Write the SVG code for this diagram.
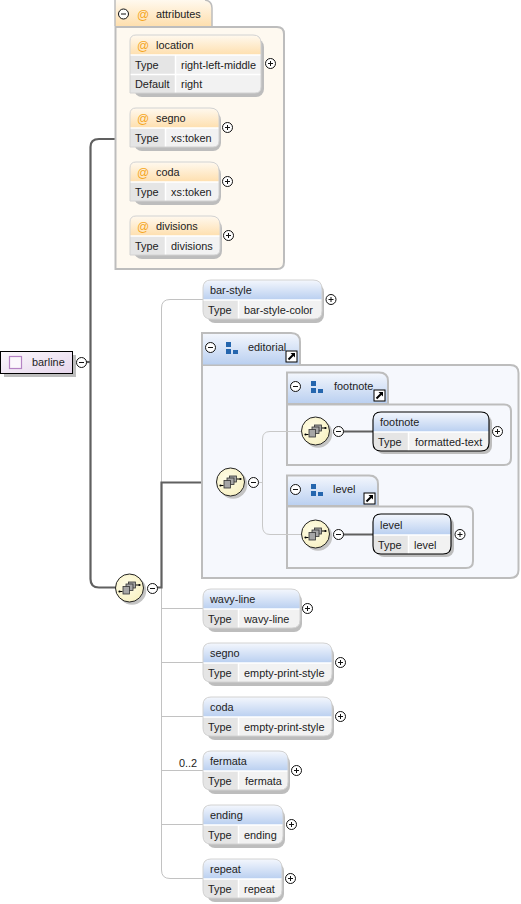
<svg xmlns="http://www.w3.org/2000/svg" xmlns:xlink="http://www.w3.org/1999/xlink" width="521" height="904" viewBox="0 0 521 904">
<style>
text{font-family:"Liberation Sans",Arial,sans-serif;font-size:10.9px;fill:#222}
.shadow{fill:#bdbdbd}
.bg{fill:#f2f2f2}
.lab{fill:#e5e5e5}
.sep{stroke:#fff;stroke-width:1.5;fill:none}
.edge{fill:none;stroke:#c2c2c2;stroke-width:1}
.edge2{fill:none;stroke:#c8c8c8;stroke-width:1}
.dark{fill:none;stroke:#606060;stroke-width:2.200}
.outline{fill:none;stroke:#d2d2d2;stroke-width:1}
.outlineb{fill:none;stroke:#000;stroke-width:1.100}
.frame{stroke:#bdbdbd;stroke-width:2}
.btn{fill:#fff;stroke:#111;stroke-width:1}
.sym{stroke:#111;stroke-width:1;fill:none}
</style>
<defs>
<linearGradient id="blue" x1="0" y1="0" x2="0" y2="1"><stop offset="0" stop-color="#f4f7fd"/><stop offset="1" stop-color="#b9cff0"/></linearGradient>
<linearGradient id="orange" x1="0" y1="0" x2="0" y2="1"><stop offset="0" stop-color="#fff9ef"/><stop offset="1" stop-color="#fedfae"/></linearGradient>
<linearGradient id="purple" x1="0" y1="0" x2="1" y2="1"><stop offset="0" stop-color="#fbf8fc"/><stop offset="1" stop-color="#e6d6ec"/></linearGradient>
<radialGradient id="seqfill" cx="0.4" cy="0.4" r="0.7"><stop offset="0" stop-color="#fffde8"/><stop offset="1" stop-color="#f7f0c0"/></radialGradient>
<g id="minus"><circle r="5" class="btn"/><path d="M-2.500 0H2.500" class="sym"/></g>
<g id="plus"><circle r="5" class="btn"/><path d="M-2.500 0H2.500M0-2.500V2.500" class="sym"/></g>
<g id="link"><rect x="-5.500" y="-5.500" width="11" height="11" fill="#fff" stroke="#000" stroke-width="1"/><path d="M-3 3L2 -2" stroke="#000" stroke-width="2" fill="none"/><path d="M-1-3.500H3.500V1Z" fill="#000"/></g>
<g id="squares" fill="#2566ae"><rect x="0" y="0" width="5" height="5"/><rect x="0" y="7" width="5" height="5"/><rect x="7" y="8" width="5" height="4"/></g>
<g id="seq">
<circle cx="2.500" cy="2.500" r="14.300" fill="#c4c4c4"/>
<circle r="14" fill="url(#seqfill)" stroke="#222" stroke-width="1"/>
<path d="M-10 3.500H-7M6-3H10" stroke="#000" stroke-width="1.100"/>
<circle cx="-10" cy="3.500" r="1.100" fill="#000"/><circle cx="10" cy="-3" r="1.100" fill="#000"/>
<rect x="-1" y="-6" width="7" height="6" fill="#a6a6a6" stroke="#333" stroke-width="0.800"/>
<rect x="-3.500" y="-4" width="7" height="6.500" fill="#a6a6a6" stroke="#333" stroke-width="0.800"/>
<rect x="-6.500" y="-1.500" width="6.500" height="7.500" fill="#a6a6a6" stroke="#333" stroke-width="0.800"/>
</g>
</defs>

<g id="connectors">
<path class="edge" d="M203 299.500H170Q161.500 299.500 161.500 308V870Q161.500 878.500 170 878.500H203"/>
<path class="edge" d="M161.500 608.500H203M161.500 662.500H203M161.500 716.500H203M161.500 770.500H203M161.500 824.500H203"/>
<path class="dark" d="M115 139H99Q90.500 139 90.500 147V579Q90.500 587.500 99 587.500H116"/>
<path class="dark" d="M86 362H90"/>
<path class="dark" d="M157 587.500H161.500V482.500H216"/>
</g>

<g id="attributes">
<path d="M115 26V0H203Q212 0 212 9V26Z" fill="url(#orange)"/>
<path d="M115 0V26M212 8V26M205 0Q212 1 212 8" stroke="#bdbdbd" stroke-width="1.500" fill="none"/>
<path d="M115.500 27H277Q284 27 284 34V262Q284 269 277 269H115.500Z" fill="#fef9f0" class="frame"/>
<use href="#minus" x="123.500" y="14"/>
<text x="137" y="19" style="fill:#f5a623;font-size:12px">@</text>
<text x="156" y="18">attributes</text>
</g>

<g id="attr-location">
<rect x="134" y="39" width="130" height="58" rx="8" class="shadow"/>
<path d="M130 55V41Q130 35 136 35H253Q261 35 261 43V55Z" fill="url(#orange)"/>
<path d="M130 55H261V87Q261 93 255 93H130Z" class="bg"/>
<path d="M130 55H175V93H130Z" class="lab"/>
<path d="M130 55H261M130 74.500H261M175.500 55V93" class="sep"/>
<path d="M130 55V41Q130 35 136 35H253Q261 35 261 43V87Q261 93 255 93H130Z" class="outline"/>
<text x="137" y="50" style="fill:#f5a623;font-size:12px">@</text><text x="156" y="49">location</text>
<text x="135" y="69">Type</text><text x="181" y="69">right-left-middle</text>
<text x="135" y="88">Default</text><text x="181" y="88">right</text>
<use href="#plus" x="270.500" y="63.500"/>
</g>

<g id="attr-segno">
<rect x="134" y="112" width="87" height="39" rx="8" class="shadow"/>
<path d="M130 128V114Q130 108 136 108H210Q219 108 219 117V128Z" fill="url(#orange)"/>
<path d="M130 128H219V141Q219 147 213 147H130Z" class="bg"/>
<path d="M130 128H165V147H130Z" class="lab"/>
<path d="M130 128H219M165.500 128V147" class="sep"/>
<path d="M130 128V114Q130 108 136 108H210Q219 108 219 117V141Q219 147 213 147H130Z" class="outline"/>
<text x="137" y="123" style="fill:#f5a623;font-size:12px">@</text><text x="156" y="122">segno</text>
<text x="135" y="142">Type</text><text x="171" y="142">xs:token</text>
<use href="#plus" x="227.500" y="127.500"/>
</g>

<g id="attr-coda">
<rect x="134" y="166" width="87" height="39" rx="8" class="shadow"/>
<path d="M130 182V168Q130 162 136 162H210Q219 162 219 171V182Z" fill="url(#orange)"/>
<path d="M130 182H219V195Q219 201 213 201H130Z" class="bg"/>
<path d="M130 182H165V201H130Z" class="lab"/>
<path d="M130 182H219M165.500 182V201" class="sep"/>
<path d="M130 182V168Q130 162 136 162H210Q219 162 219 171V195Q219 201 213 201H130Z" class="outline"/>
<text x="137" y="177" style="fill:#f5a623;font-size:12px">@</text><text x="156" y="176">coda</text>
<text x="135" y="196">Type</text><text x="171" y="196">xs:token</text>
<use href="#plus" x="227.500" y="181.500"/>
</g>

<g id="attr-divisions">
<rect x="134" y="220" width="88" height="39" rx="8" class="shadow"/>
<path d="M130 236V222Q130 216 136 216H211Q220 216 220 225V236Z" fill="url(#orange)"/>
<path d="M130 236H220V249Q220 255 214 255H130Z" class="bg"/>
<path d="M130 236H165V255H130Z" class="lab"/>
<path d="M130 236H220M165.500 236V255" class="sep"/>
<path d="M130 236V222Q130 216 136 216H211Q220 216 220 225V249Q220 255 214 255H130Z" class="outline"/>
<text x="137" y="231" style="fill:#f5a623;font-size:12px">@</text><text x="156" y="230">divisions</text>
<text x="135" y="250">Type</text><text x="171" y="250">divisions</text>
<use href="#plus" x="228.500" y="235.500"/>
</g>

<g id="barline">
<rect x="4" y="355" width="72" height="22" class="shadow"/>
<rect x="0.500" y="351.500" width="72" height="22" fill="url(#purple)" stroke="#000" stroke-width="1"/>
<rect x="9.500" y="356.500" width="12" height="12" fill="#fbf7fc" stroke="#b583c4" stroke-width="1.200"/>
<text x="32" y="366">barline</text>
<use href="#minus" x="81.500" y="362.500"/>
</g>

<g id="bar-style">
<rect x="207" y="284" width="117" height="39" rx="8" class="shadow"/>
<path d="M203 300V288Q203 280 211 280H313Q322 280 322 289V300Z" fill="url(#blue)"/>
<path d="M203 300H322V311Q322 319 314 319H211Q203 319 203 311Z" class="bg"/>
<path d="M203 300H238V319H211Q203 319 203 311Z" class="lab"/>
<path d="M203 300H322M238.500 300V319" class="sep"/>
<path d="M203 288Q203 280 211 280H313Q322 280 322 289V311Q322 319 314 319H211Q203 319 203 311Z" class="outline"/>
<text x="210" y="294">bar-style</text><text x="208" y="314">Type</text><text x="244" y="314">bar-style-color</text>
<use href="#plus" x="331" y="299.500"/>
</g>

<g id="editorial">
<path d="M202 365V333H291Q300 333 300 342V365Z" fill="url(#blue)" stroke="#bdbdbd" stroke-width="2"/>
<path d="M202 365H510Q518.500 365 518.500 373V570Q518.500 578 510 578H202Z" fill="#f6f8fd" class="frame"/>
<path d="M203 364H299" stroke="#b9cff0" stroke-width="1"/>
<use href="#minus" x="210.500" y="347.500"/>
<use href="#squares" x="226" y="342"/>
<text x="248" y="351">editorial</text>
<use href="#link" x="291.500" y="356.500"/>
</g>

<g id="footnote-group">
<path d="M287 404V372.500H379Q388 372.500 388 381V404Z" fill="url(#blue)" stroke="#bdbdbd" stroke-width="2"/>
<path d="M287 404.500H504Q511 404.500 511 411V458Q511 465 504 465H287Z" fill="#f6f8fd" class="frame"/>
<use href="#minus" x="295.500" y="386.500"/>
<use href="#squares" x="311" y="381"/>
<text x="334" y="390">footnote</text>
<use href="#link" x="379.500" y="395.500"/>
</g>

<g id="level-group">
<path d="M287 506V475.500H369Q378 475.500 378 484V506Z" fill="url(#blue)" stroke="#bdbdbd" stroke-width="2"/>
<path d="M287 506.500H466Q473 506.500 473 513V561Q473 568 466 568H287Z" fill="#f6f8fd" class="frame"/>
<use href="#minus" x="295.500" y="489.500"/>
<use href="#squares" x="311" y="484"/>
<text x="333" y="493">level</text>
<use href="#link" x="369.500" y="498.500"/>
</g>

<g id="inner-connectors">
<path class="edge2" d="M301 431.500H270Q262.500 431.500 262.500 439V526Q262.500 534.500 270 534.500H301"/>
<path class="edge2" d="M258 482.500H262"/>
<path class="dark" d="M343 431.500H373M343 534.500H373"/>
</g>

<g id="seq-main"><use href="#seq" x="129.500" y="588"/><use href="#minus" x="152.500" y="588.500"/></g>
<g id="seq-editorial"><use href="#seq" x="230.500" y="482"/><use href="#minus" x="253.500" y="482.500"/></g>
<g id="seq-footnote"><use href="#seq" x="315.500" y="431"/><use href="#minus" x="338.500" y="431.500"/></g>
<g id="seq-level"><use href="#seq" x="315.500" y="534"/><use href="#minus" x="338.500" y="534.500"/></g>

<g id="footnote">
<rect x="376" y="415" width="116" height="39" rx="8" class="shadow"/>
<path d="M373 432V420Q373 412 381 412H481Q489 412 489 420V432Z" fill="url(#blue)"/>
<path d="M373 432H489V443Q489 451 481 451H381Q373 451 373 443Z" class="bg"/>
<path d="M373 432H408V451H381Q373 451 373 443Z" class="lab"/>
<path d="M373 432H489M408.500 432V451" class="sep"/>
<path d="M373 420Q373 412 381 412H481Q489 412 489 420V443Q489 451 481 451H381Q373 451 373 443Z" class="outlineb"/>
<text x="380" y="426">footnote</text><text x="378" y="446">Type</text><text x="415" y="446">formatted-text</text>
<use href="#plus" x="497.500" y="431.500"/>
</g>

<g id="level">
<rect x="376" y="517" width="78" height="40" rx="8" class="shadow"/>
<path d="M373 535V522Q373 514 381 514H443Q451 514 451 522V535Z" fill="url(#blue)"/>
<path d="M373 535H451V546Q451 554 443 554H381Q373 554 373 546Z" class="bg"/>
<path d="M373 535H408V554H381Q373 554 373 546Z" class="lab"/>
<path d="M373 535H451M408.500 535V554" class="sep"/>
<path d="M373 522Q373 514 381 514H443Q451 514 451 522V546Q451 554 443 554H381Q373 554 373 546Z" class="outlineb"/>
<text x="380" y="529">level</text><text x="378" y="549">Type</text><text x="414" y="549">level</text>
<use href="#plus" x="460" y="534.500"/>
</g>

<g id="wavy-line">
<rect x="207" y="593" width="95" height="39" rx="8" class="shadow"/>
<path d="M203 609V597Q203 589 211 589H291Q300 589 300 598V609Z" fill="url(#blue)"/>
<path d="M203 609H300V620Q300 628 292 628H211Q203 628 203 620Z" class="bg"/>
<path d="M203 609H238V628H211Q203 628 203 620Z" class="lab"/>
<path d="M203 609H300M238.500 609V628" class="sep"/>
<path d="M203 597Q203 589 211 589H291Q300 589 300 598V620Q300 628 292 628H211Q203 628 203 620Z" class="outline"/>
<text x="210" y="603">wavy-line</text><text x="208" y="623">Type</text><text x="244" y="623">wavy-line</text>
<use href="#plus" x="307.500" y="608.500"/>
</g>

<g id="segno">
<rect x="207" y="647" width="127" height="39" rx="8" class="shadow"/>
<path d="M203 663V651Q203 643 211 643H323Q332 643 332 652V663Z" fill="url(#blue)"/>
<path d="M203 663H332V674Q332 682 324 682H211Q203 682 203 674Z" class="bg"/>
<path d="M203 663H238V682H211Q203 682 203 674Z" class="lab"/>
<path d="M203 663H332M238.500 663V682" class="sep"/>
<path d="M203 651Q203 643 211 643H323Q332 643 332 652V674Q332 682 324 682H211Q203 682 203 674Z" class="outline"/>
<text x="210" y="657">segno</text><text x="208" y="677">Type</text><text x="244" y="677">empty-print-style</text>
<use href="#plus" x="340.500" y="662.500"/>
</g>

<g id="coda">
<rect x="207" y="701" width="127" height="39" rx="8" class="shadow"/>
<path d="M203 717V705Q203 697 211 697H323Q332 697 332 706V717Z" fill="url(#blue)"/>
<path d="M203 717H332V728Q332 736 324 736H211Q203 736 203 728Z" class="bg"/>
<path d="M203 717H238V736H211Q203 736 203 728Z" class="lab"/>
<path d="M203 717H332M238.500 717V736" class="sep"/>
<path d="M203 705Q203 697 211 697H323Q332 697 332 706V728Q332 736 324 736H211Q203 736 203 728Z" class="outline"/>
<text x="210" y="711">coda</text><text x="208" y="731">Type</text><text x="244" y="731">empty-print-style</text>
<use href="#plus" x="340.500" y="716.500"/>
</g>

<g id="fermata">
<rect x="207" y="755" width="83" height="39" rx="8" class="shadow"/>
<path d="M203 771V759Q203 751 211 751H279Q288 751 288 760V771Z" fill="url(#blue)"/>
<path d="M203 771H288V782Q288 790 280 790H211Q203 790 203 782Z" class="bg"/>
<path d="M203 771H238V790H211Q203 790 203 782Z" class="lab"/>
<path d="M203 771H288M238.500 771V790" class="sep"/>
<path d="M203 759Q203 751 211 751H279Q288 751 288 760V782Q288 790 280 790H211Q203 790 203 782Z" class="outline"/>
<text x="179" y="767">0..2</text>
<text x="210" y="765">fermata</text><text x="208" y="785">Type</text><text x="245" y="785">fermata</text>
<use href="#plus" x="296.500" y="770.500"/>
</g>

<g id="ending">
<rect x="207" y="809" width="78" height="39" rx="8" class="shadow"/>
<path d="M203 825V813Q203 805 211 805H274Q283 805 283 814V825Z" fill="url(#blue)"/>
<path d="M203 825H283V836Q283 844 275 844H211Q203 844 203 836Z" class="bg"/>
<path d="M203 825H238V844H211Q203 844 203 836Z" class="lab"/>
<path d="M203 825H283M238.500 825V844" class="sep"/>
<path d="M203 813Q203 805 211 805H274Q283 805 283 814V836Q283 844 275 844H211Q203 844 203 836Z" class="outline"/>
<text x="210" y="819">ending</text><text x="208" y="839">Type</text><text x="244" y="839">ending</text>
<use href="#plus" x="291.500" y="824.500"/>
</g>

<g id="repeat">
<rect x="207" y="863" width="77" height="39" rx="8" class="shadow"/>
<path d="M203 879V867Q203 859 211 859H273Q282 859 282 868V879Z" fill="url(#blue)"/>
<path d="M203 879H282V890Q282 898 274 898H211Q203 898 203 890Z" class="bg"/>
<path d="M203 879H238V898H211Q203 898 203 890Z" class="lab"/>
<path d="M203 879H282M238.500 879V898" class="sep"/>
<path d="M203 867Q203 859 211 859H273Q282 859 282 868V890Q282 898 274 898H211Q203 898 203 890Z" class="outline"/>
<text x="210" y="873">repeat</text><text x="208" y="893">Type</text><text x="244" y="893">repeat</text>
<use href="#plus" x="290.500" y="878.500"/>
</g>
</svg>
